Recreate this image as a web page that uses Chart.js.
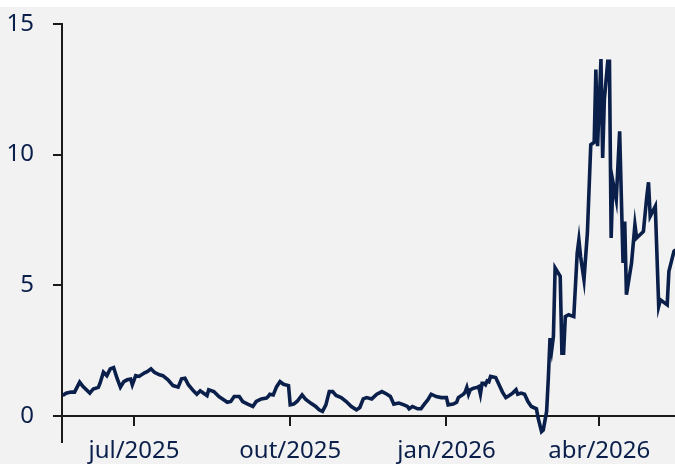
<!DOCTYPE html>
<html>
<head>
<meta charset="utf-8">
<script src="https://cdn.jsdelivr.net/npm/chart.js@4.4.1/dist/chart.umd.min.js"></script>
<style>
  html, body { margin: 0; padding: 0; background: #ffffff; }
  #wrap { width: 675px; height: 464px; position: relative; }
  canvas { display: block; }
</style>
</head>
<body>
<div id="wrap"><canvas id="c" width="675" height="464"></canvas></div>
<script>
// ---- data ----
const dates = [
  '2025-05-20','2025-05-22','2025-05-25','2025-05-27','2025-05-30','2025-06-01','2025-06-05','2025-06-07',
  '2025-06-10','2025-06-11','2025-06-13','2025-06-15','2025-06-17','2025-06-19','2025-06-21','2025-06-23',
  '2025-06-25','2025-06-27','2025-06-29','2025-06-30','2025-07-02','2025-07-04','2025-07-07','2025-07-09',
  '2025-07-11','2025-07-13','2025-07-16','2025-07-18','2025-07-21','2025-07-24','2025-07-27','2025-07-29',
  '2025-07-31','2025-08-02','2025-08-05','2025-08-07','2025-08-09','2025-08-11','2025-08-13','2025-08-14',
  '2025-08-17','2025-08-20','2025-08-23','2025-08-25','2025-08-27','2025-08-29','2025-09-01','2025-09-03',
  '2025-09-06','2025-09-09','2025-09-11','2025-09-14','2025-09-17','2025-09-18','2025-09-19','2025-09-21',
  '2025-09-23','2025-09-25','2025-09-27','2025-09-30','2025-10-01','2025-10-03','2025-10-05','2025-10-08',
  '2025-10-10','2025-10-13','2025-10-16','2025-10-18','2025-10-20','2025-10-22','2025-10-24','2025-10-26',
  '2025-10-28','2025-10-31','2025-11-03','2025-11-06','2025-11-09','2025-11-11','2025-11-13','2025-11-15',
  '2025-11-18','2025-11-21','2025-11-24','2025-11-27','2025-11-29','2025-12-01','2025-12-04','2025-12-07',
  '2025-12-09','2025-12-10','2025-12-12','2025-12-15','2025-12-17','2025-12-19','2025-12-21','2025-12-23',
  '2025-12-26','2025-12-29','2026-01-01','2026-01-02','2026-01-05','2026-01-07','2026-01-08','2026-01-11',
  '2026-01-12','2026-01-13','2026-01-14','2026-01-15','2026-01-17','2026-01-19','2026-01-20','2026-01-21',
  '2026-01-22','2026-01-23','2026-01-24','2026-01-25','2026-01-26','2026-01-27','2026-01-30','2026-02-01',
  '2026-02-03','2026-02-05','2026-02-07','2026-02-09','2026-02-11','2026-02-12','2026-02-14','2026-02-16',
  '2026-02-18','2026-02-20','2026-02-23','2026-02-24','2026-02-26','2026-02-27','2026-03-01','2026-03-02',
  '2026-03-03','2026-03-04','2026-03-05','2026-03-06','2026-03-09','2026-03-10','2026-03-11','2026-03-12',
  '2026-03-14','2026-03-17','2026-03-19','2026-03-20','2026-03-21','2026-03-23','2026-03-25','2026-03-27',
  '2026-03-29','2026-03-30','2026-03-31','2026-04-02','2026-04-03','2026-04-04','2026-04-06','2026-04-07',
  '2026-04-08','2026-04-09','2026-04-11','2026-04-13','2026-04-15','2026-04-16','2026-04-17','2026-04-20',
  '2026-04-22','2026-04-23','2026-04-27','2026-04-29','2026-04-30','2026-05-01','2026-05-04','2026-05-06',
  '2026-05-07','2026-05-11','2026-05-12','2026-05-15','2026-05-16'
];
const values = [
  0.78,0.87,0.91,0.91,1.29,1.12,0.87,1.03,
  1.09,1.25,1.67,1.54,1.80,1.85,1.44,1.10,
  1.31,1.38,1.41,1.19,1.54,1.51,1.64,1.70,
  1.80,1.67,1.57,1.54,1.38,1.16,1.10,1.42,
  1.44,1.19,0.96,0.83,0.96,0.87,0.78,1.00,
  0.93,0.74,0.61,0.52,0.55,0.74,0.74,0.55,
  0.45,0.36,0.55,0.65,0.68,0.74,0.83,0.80,
  1.12,1.31,1.21,1.16,0.42,0.45,0.55,0.80,
  0.64,0.49,0.36,0.23,0.17,0.42,0.93,0.93,
  0.78,0.70,0.55,0.36,0.23,0.32,0.65,0.70,
  0.65,0.83,0.93,0.83,0.74,0.45,0.49,0.42,
  0.36,0.27,0.36,0.27,0.27,0.45,0.61,0.83,
  0.74,0.70,0.70,0.42,0.45,0.52,0.70,0.83,
  0.91,1.09,0.83,1.00,1.06,1.09,1.12,0.83,
  1.25,1.25,1.19,1.34,1.31,1.51,1.47,1.19,
  0.91,0.70,0.78,0.87,1.00,0.83,0.87,0.83,
  0.55,0.36,0.27,-0.09,-0.60,-0.54,0.17,1.44,
  2.98,2.53,3.04,5.66,5.34,2.40,2.40,3.80,
  3.87,3.80,6.23,6.74,6.10,5.21,7.00,10.38,
  10.47,13.26,10.32,13.66,9.87,12.11,13.57,13.57,
  6.81,8.98,8.28,10.89,5.85,7.44,4.64,5.85,
  7.32,6.81,7.06,8.40,8.94,7.64,8.02,4.19,
  4.44,4.25,5.53,6.30,6.36
];
const tickDates = ['2025-07-01','2025-10-01','2026-01-01','2026-04-01'];
const tickLabels = ['jul/2025','out/2025','jan/2026','abr/2026'];
const yTicks = [0, 5, 10, 15];

// ---- helpers ----
const START = Date.parse('2025-05-20T00:00:00Z');
const dayOf = d => (Date.parse(d + 'T00:00:00Z') - START) / 86400000;
const points = dates.map((d, i) => ({ x: dayOf(d), y: values[i] }));
const xTickVals = tickDates.map(dayOf);

const NAVY = '#0b1f4b';
const AXIS = '#1a1a1a';
const FONT = { family: "'Noto Sans', 'Open Sans', sans-serif", size: 24 };

const bgPlugin = {
  id: 'bg',
  beforeDraw(chart) {
    const ctx = chart.ctx;
    ctx.save();
    ctx.fillStyle = '#ffffff';
    ctx.fillRect(0, 0, chart.width, chart.height);
    ctx.fillStyle = '#f2f2f2';
    ctx.fillRect(0, 7, chart.width, chart.height - 7);
    ctx.restore();
  }
};

const zeroPad = s => { s.paddingTop = 0; s.paddingBottom = 0; s.paddingLeft = 0; s.paddingRight = 0; };

new Chart(document.getElementById('c'), {
  type: 'line',
  data: {
    datasets: [{
      data: points,
      borderColor: NAVY,
      borderWidth: 3.6,
      pointRadius: 0,
      tension: 0,
      fill: false
    }]
  },
  options: {
    responsive: false,
    animation: false,
    devicePixelRatio: 1,
    layout: { padding: { top: 24, bottom: 22, left: 0, right: 0 } },
    plugins: { legend: { display: false }, tooltip: { enabled: false } },
    scales: {
      x: {
        type: 'linear',
        position: { y: 0 },
        min: -0.4,
        max: 360.6,
        afterBuildTicks: s => { s.ticks = xTickVals.map(v => ({ value: v })); },
        afterFit: s => { zeroPad(s); },
        ticks: {
          autoSkip: false,
          maxRotation: 0,
          color: NAVY,
          font: FONT,
          padding: 12,
          callback: (v) => { const i = xTickVals.indexOf(v); return i >= 0 ? tickLabels[i] : ''; }
        },
        grid: { drawOnChartArea: false, drawTicks: true, tickLength: 9, color: AXIS, lineWidth: 2 },
        border: { display: true, color: AXIS, width: 2 }
      },
      y: {
        min: -1,
        max: 15,
        afterBuildTicks: s => { s.ticks = yTicks.map(v => ({ value: v })); },
        afterFit: s => { s.width = 62; zeroPad(s); },
        ticks: { color: NAVY, font: FONT, padding: 19 },
        grid: { drawOnChartArea: false, drawTicks: true, tickLength: 9, color: AXIS, lineWidth: 2 },
        border: { display: true, color: AXIS, width: 2 }
      }
    }
  },
  plugins: [bgPlugin]
});
</script>
</body>
</html>
